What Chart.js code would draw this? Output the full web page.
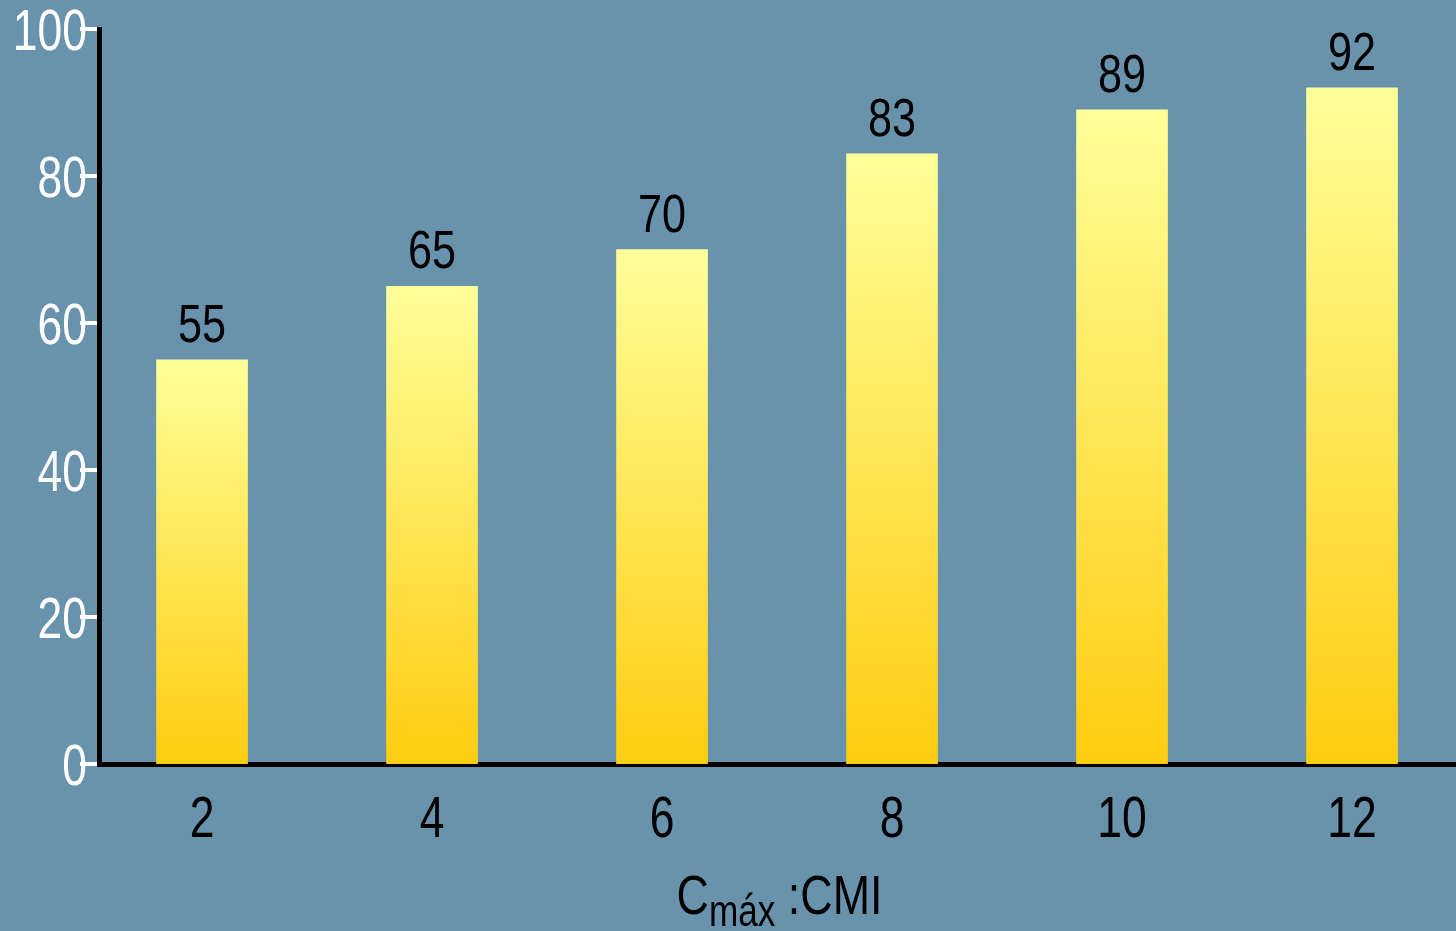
<!DOCTYPE html>
<html>
<head>
<meta charset="utf-8">
<script src="https://cdn.jsdelivr.net/npm/chart.js@4/dist/chart.umd.min.js"></script>
<style>
  html, body { margin: 0; padding: 0; background: #6993ad; }
  #wrap { width: 1456px; height: 931px; }
</style>
</head>
<body>
<div id="wrap"><canvas id="c" width="1456" height="931"></canvas></div>
<script>
// Cmáx:CMI ratio categories and percentage values
const categories = [2, 4, 6, 8, 10, 12];
const values = [55, 65, 70, 83, 89, 92];
const yTicks = [0, 20, 40, 60, 80, 100];

const FONT = "'Liberation Sans', Arial, sans-serif";

// Narrow-looking text: regular face squeezed horizontally
function narrowText(ctx, text, x, y, size, sx, align, color) {
  ctx.save();
  ctx.font = size + 'px ' + FONT;
  ctx.fillStyle = color;
  ctx.textBaseline = 'alphabetic';
  const w = ctx.measureText(text).width * sx;
  let left = x;
  if (align === 'center') left = x - w / 2;
  else if (align === 'right') left = x - w;
  ctx.translate(left, y);
  ctx.scale(sx, 1);
  ctx.textAlign = 'left';
  ctx.fillText(text, 0, 0);
  ctx.restore();
  return w;
}

// Tick labels placed from the scales' own tick positions
const tickLabels = {
  id: 'tickLabels',
  afterDraw(chart) {
    const ctx = chart.ctx;
    const ys = chart.scales.y, xs = chart.scales.x;
    ys.ticks.forEach(t => {
      const py = ys.getPixelForValue(t.value);
      narrowText(ctx, String(t.value), 87, py + 21, 57, 0.78, 'right', '#fff');
    });
    // white tick marks, drawn over the label ends
    ctx.save();
    ctx.strokeStyle = '#fff';
    ctx.lineWidth = 4;
    ys.ticks.forEach(t => {
      const py = Math.round(ys.getPixelForValue(t.value));
      ctx.beginPath();
      ctx.moveTo(80, py);
      ctx.lineTo(97, py);
      ctx.stroke();
    });
    ctx.restore();
    xs.ticks.forEach(t => {
      const px = xs.getPixelForValue(t.value);
      narrowText(ctx, String(t.value), px, 837, 57, 0.78, 'center', '#000');
    });
  }
};

// Value labels above each bar
const valueLabels = {
  id: 'valueLabels',
  afterDatasetsDraw(chart) {
    const ctx = chart.ctx;
    const meta = chart.getDatasetMeta(0);
    meta.data.forEach((bar, i) => {
      narrowText(ctx, String(values[i]), bar.x, bar.y - 18, 54, 0.8, 'center', '#000');
    });
  }
};

// Axis title with subscript: C(máx) :CMI
const axisTitle = {
  id: 'axisTitle',
  afterDraw(chart) {
    const ctx = chart.ctx;
    const area = chart.chartArea;
    const sx = 0.8;
    ctx.save();
    ctx.font = '56px ' + FONT;
    const w1 = ctx.measureText('C').width * sx;
    const w3 = ctx.measureText(' :CMI').width * sx;
    ctx.font = '44px ' + FONT;
    const w2 = ctx.measureText('máx').width * sx;
    ctx.restore();
    let x = (area.left + area.right) / 2 + 2 - (w1 + w2 + w3) / 2;
    const base = 914;
    x += narrowText(ctx, 'C', x, base, 56, sx, 'left', '#000');
    x += narrowText(ctx, 'máx', x, base + 12, 44, sx, 'left', '#000');
    narrowText(ctx, ' :CMI', x, base, 56, sx, 'left', '#000');
  }
};

const barFill = (context) => {
  const chart = context.chart;
  if (!chart.chartArea || !context.raw) return '#ffe766';
  const ys = chart.scales.y;
  const top = ys.getPixelForValue(context.raw.y);
  const bottom = ys.getPixelForValue(0);
  const g = chart.ctx.createLinearGradient(0, top, 0, bottom);
  g.addColorStop(0, '#ffff99');
  g.addColorStop(1, '#ffcc10');
  return g;
};

new Chart(document.getElementById('c'), {
  type: 'bar',
  data: {
    datasets: [{
      data: categories.map((c, i) => ({ x: c, y: values[i] })),
      backgroundColor: barFill,
      borderWidth: 0,
      barThickness: 91
    }]
  },
  options: {
    responsive: false,
    animation: false,
    events: [],
    layout: { padding: { top: 29, left: 0, right: 0, bottom: 0 } },
    plugins: { legend: { display: false }, tooltip: { enabled: false } },
    scales: {
      x: {
        type: 'linear',
        offset: false,
        min: 1.104,
        max: 12.904,
        afterBuildTicks: (axis) => { axis.ticks = categories.map(v => ({ value: v })); },
        afterFit: (scale) => { scale.height = 167; },
        grid: { display: false, drawTicks: false, offset: false },
        border: { display: true, color: '#000', width: 5 },
        ticks: { display: false }
      },
      y: {
        min: 0,
        max: 100,
        afterBuildTicks: (axis) => { axis.ticks = yTicks.map(v => ({ value: v })); },
        afterFit: (scale) => { scale.width = 99; },
        grid: { display: false, drawTicks: false },
        border: { display: true, color: '#000', width: 5 },
        ticks: { display: false }
      }
    }
  },
  plugins: [valueLabels, tickLabels, axisTitle]
});
</script>
</body>
</html>
